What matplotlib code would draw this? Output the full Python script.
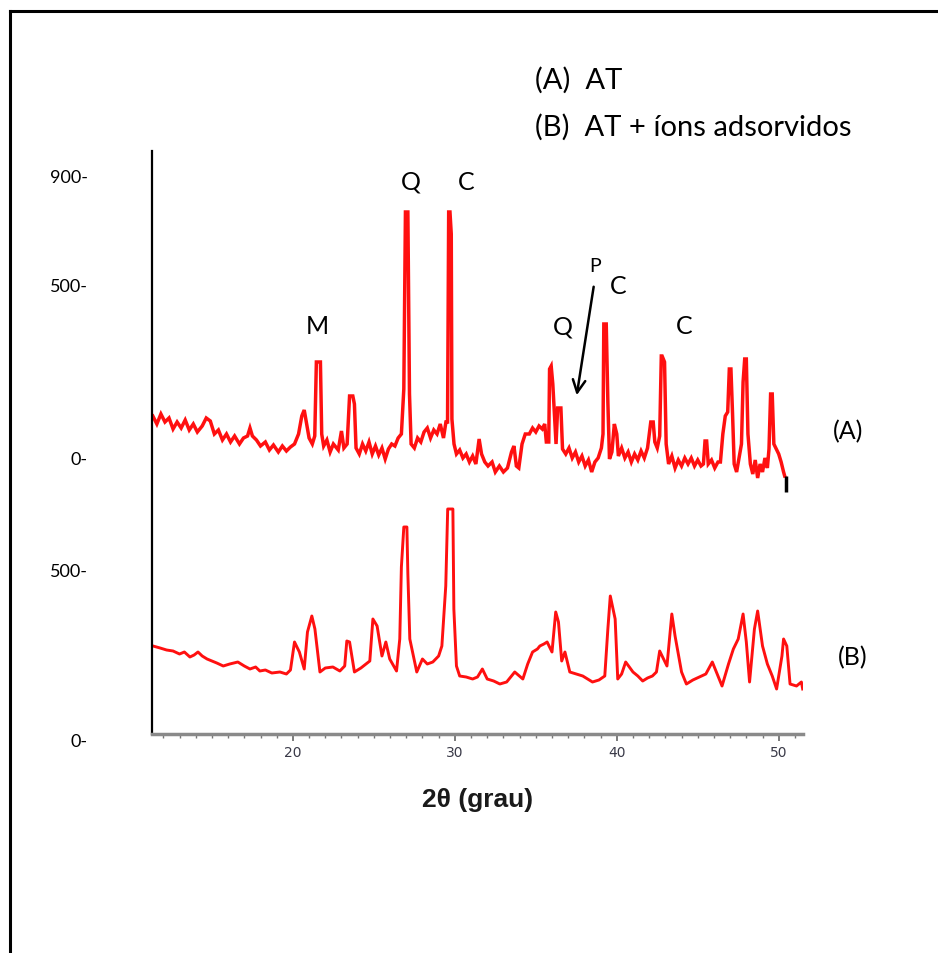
import matplotlib
matplotlib.use("Agg")
import matplotlib.pyplot as plt
from matplotlib.lines import Line2D

# 2theta (deg) and intensity (a.u.) for pattern A (AT), stacked above B
theta_a = [11.35, 11.6, 11.85, 12.1, 12.35, 12.6, 12.85, 13.1, 13.35, 13.6, 13.85, 14.1, 14.4, 14.65,
           14.9, 15.15, 15.4, 15.65, 15.9, 16.15, 16.4, 16.7, 16.95, 17.2, 17.35, 17.5, 17.75, 18.0,
           18.3, 18.55, 18.8, 19.1, 19.35, 19.6, 19.85, 20.1, 20.35, 20.55, 20.7, 20.85, 21.0, 21.2,
           21.35, 21.45, 21.7, 21.78, 21.9, 22.1, 22.3, 22.5, 22.8, 23.0, 23.15, 23.35, 23.5, 23.7,
           23.8, 23.9, 24.1, 24.3, 24.5, 24.7, 24.9, 25.1, 25.3, 25.5, 25.7, 25.9, 26.1, 26.3, 26.5,
           26.7, 26.85, 26.95, 27.1, 27.2, 27.3, 27.5, 27.7, 27.9, 28.1, 28.3, 28.5, 28.7, 28.9, 29.1,
           29.3, 29.45, 29.55, 29.62, 29.7, 29.78, 29.82, 29.95, 30.1, 30.3, 30.5, 30.7, 30.9, 31.1,
           31.3, 31.5, 31.65, 31.85, 32.05, 32.3, 32.5, 32.75, 33.0, 33.25, 33.5, 33.65, 33.8, 33.95,
           34.15, 34.35, 34.6, 34.8, 35.0, 35.2, 35.4, 35.55, 35.65, 35.8, 35.85, 35.95, 36.05, 36.15,
           36.25, 36.35, 36.55, 36.65, 36.85, 37.05, 37.25, 37.45, 37.65, 37.85, 38.05, 38.25, 38.45,
           38.65, 38.85, 39.05, 39.15, 39.2, 39.35, 39.45, 39.55, 39.7, 39.85, 40.0, 40.1, 40.3, 40.5,
           40.7, 40.9, 41.1, 41.3, 41.5, 41.7, 41.9, 42.1, 42.25, 42.35, 42.5, 42.65, 42.75, 42.8,
           42.95, 43.05, 43.2, 43.4, 43.6, 43.8, 44.0, 44.2, 44.4, 44.6, 44.8, 45.0, 45.2, 45.35,
           45.45, 45.55, 45.65, 45.85, 46.05, 46.25, 46.4, 46.55, 46.7, 46.85, 46.95, 47.05, 47.15,
           47.25, 47.4, 47.55, 47.7, 47.8, 47.9, 48.0, 48.1, 48.25, 48.4, 48.55, 48.7, 48.85, 49.0,
           49.15, 49.3, 49.4, 49.5, 49.6, 49.7, 49.85, 50.0, 50.15, 50.3, 50.37]
int_a = [318, 310, 320, 312, 316, 305, 312, 306, 314, 304, 310, 302, 308, 316,
         313, 300, 304, 294, 300, 292, 298, 290, 296, 298, 306, 298, 294, 288,
         292, 284, 289, 282, 288, 283, 287, 290, 300, 318, 324, 310, 296, 290,
         298, 372, 372, 300, 288, 294, 282, 290, 284, 303, 286, 290, 338, 338,
         330, 286, 280, 290, 283, 292, 280, 288, 279, 286, 275, 285, 290, 288, 296,
         300, 345, 522, 522, 340, 290, 286, 296, 292, 302, 306, 296, 304, 300, 310,
         296, 312, 312, 522, 522, 500, 315, 290, 280, 284, 276, 280, 272, 278,
         270, 295, 280, 272, 268, 272, 262, 268, 262, 266, 282, 288, 268, 266,
         290, 300, 300, 306, 302, 308, 305, 310, 292, 292, 365, 368, 350, 320,
         290, 326, 326, 285, 280, 286, 276, 282, 272, 278, 268, 274, 262,
         272, 276, 286, 300, 410, 410, 332, 275, 282, 310, 300, 278, 286, 276,
         282, 272, 280, 274, 283, 276, 286, 312, 312, 292, 286, 298, 378, 378,
         372, 290, 270, 278, 266, 274, 268, 276, 270, 276, 268, 274, 268, 270,
         293, 293, 270, 274, 266, 272, 272, 300, 318, 322, 365, 365, 320,
         270, 262, 276, 290, 352, 375, 375, 300, 270, 260, 274, 256, 270, 262,
         276, 266, 285, 340, 340, 290, 285, 280, 272, 262, 258]

# pattern B (AT + adsorbed ions)
theta_b = [11.36, 11.8, 12.2, 12.6, 13.0, 13.3, 13.64, 13.9, 14.14, 14.4, 14.7, 15.0, 15.3, 15.7,
           16.1, 16.6, 17.0, 17.35, 17.7, 17.96, 18.3, 18.7, 19.2, 19.6, 19.85, 20.1, 20.4, 20.7,
           20.9, 21.17, 21.36, 21.67, 22.0, 22.47, 22.9, 23.2, 23.33, 23.5, 23.8, 24.2, 24.75, 24.94,
           25.2, 25.5, 25.74, 25.98, 26.4, 26.6, 26.7, 26.85, 27.04, 27.1, 27.22, 27.65, 28.0, 28.3,
           28.64, 29.0, 29.2, 29.44, 29.56, 29.88, 29.94, 30.1, 30.3, 30.7, 31.1, 31.4, 31.7, 32.0,
           32.4, 32.78, 33.2, 33.7, 34.2, 34.5, 34.8, 35.1, 35.25, 35.5, 35.7, 36.0, 36.23, 36.4,
           36.6, 36.8, 37.1, 37.5, 37.9, 38.2, 38.5, 38.9, 39.26, 39.45, 39.6, 39.9, 40.06, 40.3,
           40.55, 41.0, 41.3, 41.6, 41.9, 42.2, 42.45, 42.65, 43.1, 43.4, 43.6, 44.0, 44.3, 44.7,
           45.1, 45.5, 45.9, 46.2, 46.5, 46.9, 47.2, 47.5, 47.8, 48.0, 48.2, 48.5, 48.7, 49.0,
           49.3, 49.6, 49.87, 50.2, 50.3, 50.5, 50.7, 51.1, 51.4, 51.48]
int_b = [88, 86, 84, 83, 80, 82, 77, 79, 82, 78, 75, 73, 71, 68,
         70, 72, 68, 65, 67, 63, 64, 61, 62, 60, 64, 92, 82, 65,
         102, 118, 105, 62, 66, 67, 63, 68, 93, 92, 62, 66, 73, 115,
         108, 78, 92, 75, 63, 95, 167, 207, 207, 160, 95, 62, 75, 70,
         72, 78, 88, 148, 225, 225, 125, 68, 58, 57, 55, 57, 65, 55,
         53, 50, 52, 62, 55, 70, 82, 85, 88, 90, 92, 82, 122, 112,
         73, 82, 62, 60, 58, 55, 52, 54, 58, 105, 138, 115, 55, 60,
         72, 62, 58, 53, 56, 58, 62, 83, 68, 120, 98, 62, 50, 54,
         57, 60, 72, 60, 48, 70, 85, 95, 120, 92, 52, 105, 123, 88,
         70, 58, 45, 78, 95, 88, 50, 48, 52, 45]

# phase labels: (text, 2theta, intensity)
phase_text = ["M", "Q", "C", "Q", "C", "C"]
phase_theta = [21.48, 27.28, 30.68, 36.67, 40.06, 44.14]
phase_int = [408, 553, 553, 408, 449, 408]

tick_vals = [20, 30, 40, 50]
ylabel_text = ["900-", "500-", "0-", "500-", "0-"]
ylabel_px = [178, 287, 460, 572, 742]

W, H = 938, 954
fig = plt.figure(figsize=(W / 100, H / 100), dpi=100)
ax = fig.add_axes([152 / W, 1 - 735 / H, (803 - 152) / W, (735 - 152) / H])

red = "#ff1010"
ax.plot(theta_a, int_a, color=red, lw=2.5, solid_joinstyle="miter")
ax.plot(theta_b, int_b, color=red, lw=2.1)
# small cursor mark at the end of pattern A
ax.vlines(theta_a[-1] + 0.05, int_a[-1] - 16, int_a[-1], color="black", lw=2.5)

ax.set_xlim(11.3, 51.5)
ax.set_ylim(0, 583)

for s in ["top", "right"]:
    ax.spines[s].set_visible(False)
ax.spines["left"].set_color("black")
ax.spines["left"].set_linewidth(1.6)
ax.spines["bottom"].set_color("#8a8a8a")
ax.spines["bottom"].set_linewidth(2.5)

ax.set_xticks(tick_vals)
ax.set_xticks(range(12, 52), minor=True)
ax.tick_params(axis="x", which="major", length=5, width=1.2, color="#666666",
               labelsize=10, labelcolor="#3a3a48", pad=3)
ax.tick_params(axis="x", which="minor", length=3, width=1, color="#777777")
ax.set_yticks([])

font = "Lato"
for t, x, y in zip(phase_text, phase_theta, phase_int):
    ax.text(x, y, t, fontsize=18, family=font, ha="center", va="center")
ax.text(38.64, 468, "P", fontsize=14, family=font, ha="center", va="center")
ax.annotate("", xy=(37.5, 336), xytext=(38.6, 450),
            arrowprops=dict(arrowstyle="->,head_length=0.9,head_width=0.45", lw=1.8, color="black"))
ax.text(54.26, 303, "(A)", fontsize=18, family=font, ha="center", va="center", clip_on=False)
ax.text(54.57, 77, "(B)", fontsize=18, family=font, ha="center", va="center", clip_on=False)

ax.set_xlabel("2θ (grau)", fontsize=19, fontweight="bold", family="Liberation Sans",
              color="#1a1a1a", labelpad=20)

# sample legend above the plot
fig.text(535 / W, 1 - 80 / H, "(A)  AT", fontsize=21, family=font, va="center")
fig.text(535 / W, 1 - 127 / H, "(B)  AT + íons adsorvidos", fontsize=21, family=font, va="center")

for t, y in zip(ylabel_text, ylabel_px):
    fig.text(88 / W, 1 - y / H, t, fontsize=13, family=font, ha="right", va="center")

# page frame (top and left edges)
fig.add_artist(Line2D([10 / W, 1], [1 - 12 / H, 1 - 12 / H], color="black", lw=2.2))
fig.add_artist(Line2D([10 / W, 10 / W], [0, 1 - 12 / H], color="black", lw=2.2))

fig.savefig("out.png", dpi=100)
